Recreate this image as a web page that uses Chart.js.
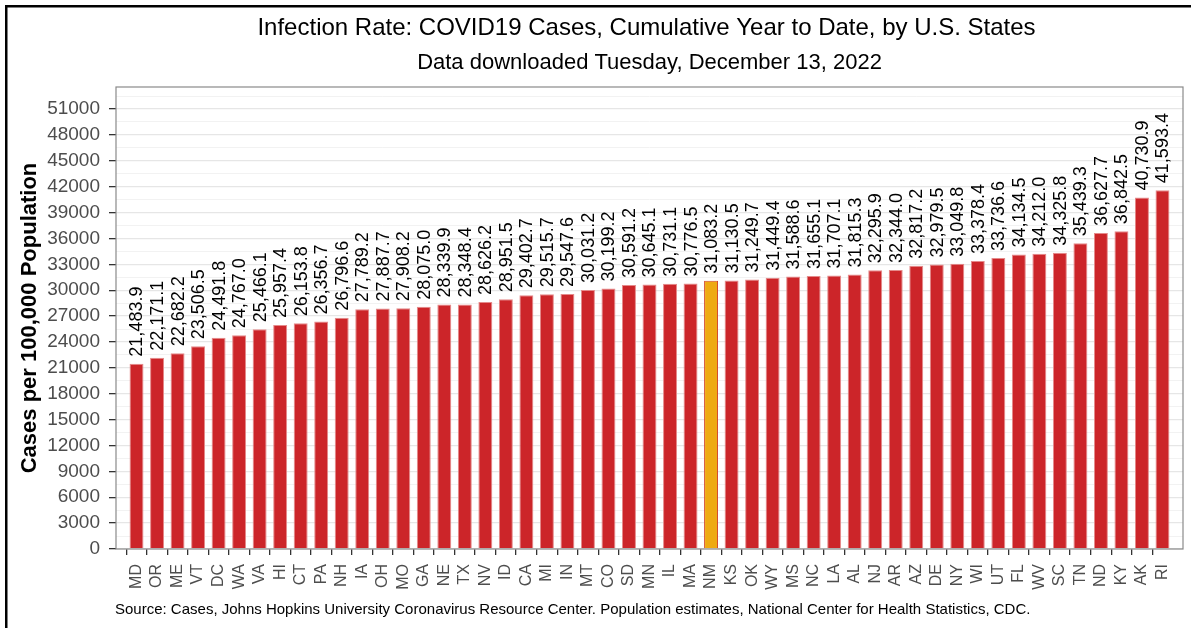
<!DOCTYPE html>
<html>
<head>
<meta charset="utf-8">
<script src="https://cdn.jsdelivr.net/npm/chart.js@4"></script>
<style>
  html, body { margin: 0; padding: 0; background: #fff; }
  #wrap { width: 1191px; height: 628px; position: relative; }
</style>
</head>
<body>
<div id="wrap"><canvas id="grafico"></canvas></div>
<script>
const states = [
    'MD', 'OR', 'ME', 'VT', 'DC', 'WA', 'VA', 'HI', 'CT', 'PA',
    'NH', 'IA', 'OH', 'MO', 'GA', 'NE', 'TX', 'NV', 'ID', 'CA',
    'MI', 'IN', 'MT', 'CO', 'SD', 'MN', 'IL', 'MA', 'NM', 'KS',
    'OK', 'WY', 'MS', 'NC', 'LA', 'AL', 'NJ', 'AR', 'AZ', 'DE',
    'NY', 'WI', 'UT', 'FL', 'WV', 'SC', 'TN', 'ND', 'KY', 'AK',
    'RI',
];

const rates = [
    21483.9, 22171.1, 22682.2, 23506.5, 24491.8, 24767.0, 25466.1, 25957.4, 26153.8, 26356.7,
    26796.6, 27789.2, 27887.7, 27908.2, 28075.0, 28339.9, 28348.4, 28626.2, 28951.5, 29402.7,
    29515.7, 29547.6, 30031.2, 30199.2, 30591.2, 30645.1, 30731.1, 30776.5, 31083.2, 31130.5,
    31249.7, 31449.4, 31588.6, 31655.1, 31707.1, 31815.3, 32295.9, 32344.0, 32817.2, 32979.5,
    33049.8, 33378.4, 33736.6, 34134.5, 34212.0, 34325.8, 35439.3, 36627.7, 36842.5, 40730.9,
    41593.4,
];

const highlight = 'NM';

const titulo = 'Infection Rate: COVID19 Cases, Cumulative Year to Date, by U.S. States';
const subtitulo = 'Data downloaded Tuesday, December 13, 2022';
const fonte = 'Source: Cases, Johns Hopkins University Coronavirus Resource Center. Population estimates, National Center for Health Statistics, CDC.';

const FONT = '"Liberation Sans", Arial, sans-serif';

const yMax = 53550;
const yStep = 1500;   // minor grid step, labels every 3000

// bars sit at x = 1..51 on a linear axis running 0..52 (one empty slot each side)
const pontos = states.map((s, i) => ({ x: i + 1, y: rates[i] }));

const fmt = v => v.toLocaleString('en-US', { minimumFractionDigits: 1, maximumFractionDigits: 1 });
const isMajor = c => c.tick && c.tick.value % 3000 === 0;

const extras = {
    id: 'extras',
    beforeDraw(chart) {
        const ctx = chart.ctx;
        ctx.save();
        ctx.fillStyle = '#fff';
        ctx.fillRect(0, 0, chart.width, chart.height);
        ctx.restore();
    },
    afterDatasetsDraw(chart) {
        const ctx = chart.ctx;
        const meta = chart.getDatasetMeta(0);
        ctx.save();
        ctx.font = '18px ' + FONT;
        ctx.fillStyle = '#000';
        ctx.textAlign = 'left';
        ctx.textBaseline = 'middle';
        meta.data.forEach((bar, i) => {
            ctx.save();
            ctx.translate(bar.x + 1, bar.y - 7);
            ctx.rotate(-Math.PI / 2);
            ctx.fillText(fmt(rates[i]), 0, 0);
            ctx.restore();
        });
        ctx.restore();
    },
    afterDraw(chart) {
        const ctx = chart.ctx;
        const a = chart.chartArea;
        const cx = (a.left + a.right) / 2;
        ctx.save();
        // panel border
        ctx.strokeStyle = '#8a8a8a';
        ctx.lineWidth = 1.2;
        ctx.strokeRect(a.left, a.top, a.right - a.left, a.bottom - a.top);
        // outer frame (top + left only)
        ctx.fillStyle = '#000';
        ctx.fillRect(5, 5, chart.width, 2.5);
        ctx.fillRect(5, 5, 2.5, chart.height);
        // titles
        ctx.fillStyle = '#000';
        ctx.textAlign = 'center';
        ctx.textBaseline = 'middle';
        ctx.font = '24px ' + FONT;
        ctx.fillText(titulo, cx - 3, 28);
        ctx.font = '22px ' + FONT;
        ctx.fillText(subtitulo, cx, 63);
        // source line
        ctx.textAlign = 'left';
        ctx.font = '15px ' + FONT;
        ctx.fillText(fonte, 115, 610);
        ctx.restore();
    }
};

const data = {
    datasets: [{
        label: 'Cases per 100,000',
        data: pontos,
        backgroundColor: states.map(s => s === highlight ? '#EEAA12' : '#CC2529'),
        borderColor: states.map(s => s === highlight ? '#D2452A' : '#E58A8A'),
        borderWidth: 1,
        barPercentage: 0.68,
        categoryPercentage: 1,
    }]
};

const config = {
    type: 'bar',
    data: data,
    plugins: [extras],
    options: {
        responsive: true,
        maintainAspectRatio: false,
        devicePixelRatio: 1,
        animation: false,
        layout: { autoPadding: false, padding: { top: 87, left: 8, right: 8, bottom: 0 } },
        plugins: {
            legend: { display: false },
            tooltip: { enabled: false },
        },
        scales: {
            x: {
                type: 'linear',
                min: 0,
                max: states.length + 1,
                offset: false,
                border: { display: false },
                grid: {
                    drawOnChartArea: false,
                    tickLength: 6,
                    lineWidth: 1.3,
                    tickColor: c => (c.tick && c.tick.value >= 1 && c.tick.value <= states.length) ? '#333' : 'rgba(0,0,0,0)',
                },
                ticks: {
                    stepSize: 1,
                    autoSkip: false,
                    maxRotation: 90,
                    minRotation: 90,
                    padding: 9,
                    color: '#4d4d4d',
                    font: { family: FONT, size: 16 },
                    callback: v => states[v - 1] || '',
                },
                afterFit: s => { s.height = 79; s.paddingLeft = 0; s.paddingRight = 0; },
            },
            y: {
                min: 0,
                max: yMax,
                border: { display: false },
                grid: {
                    color: c => isMajor(c) ? '#E6E6E6' : '#F2F2F2',
                    lineWidth: c => isMajor(c) ? 1.3 : 1,
                    tickLength: 7,
                    tickColor: c => isMajor(c) ? '#333' : 'rgba(0,0,0,0)',
                },
                ticks: {
                    autoSkip: false,
                    padding: 9,
                    color: '#4d4d4d',
                    font: { family: FONT, size: 19 },
                    callback: v => v % 3000 === 0 ? String(v) : '',
                },
                // chart.js would stretch the step to fit 53550 exactly, so lay the ticks on the 1500 grid here
                afterBuildTicks: s => {
                    const t = [];
                    for (let v = 0; v <= yMax; v += yStep) t.push({ value: v });
                    s.ticks = t;
                },
                title: {
                    display: true,
                    text: 'Cases per 100,000 Population',
                    color: '#000',
                    font: { family: FONT, size: 22, weight: 'bold' },
                    padding: { top: 9, bottom: 0 },
                },
                afterFit: s => { s.width = 108; },
            }
        }
    }
};

const grafico = new Chart(
    document.getElementById('grafico'),
    config
);
</script>
</body>
</html>
